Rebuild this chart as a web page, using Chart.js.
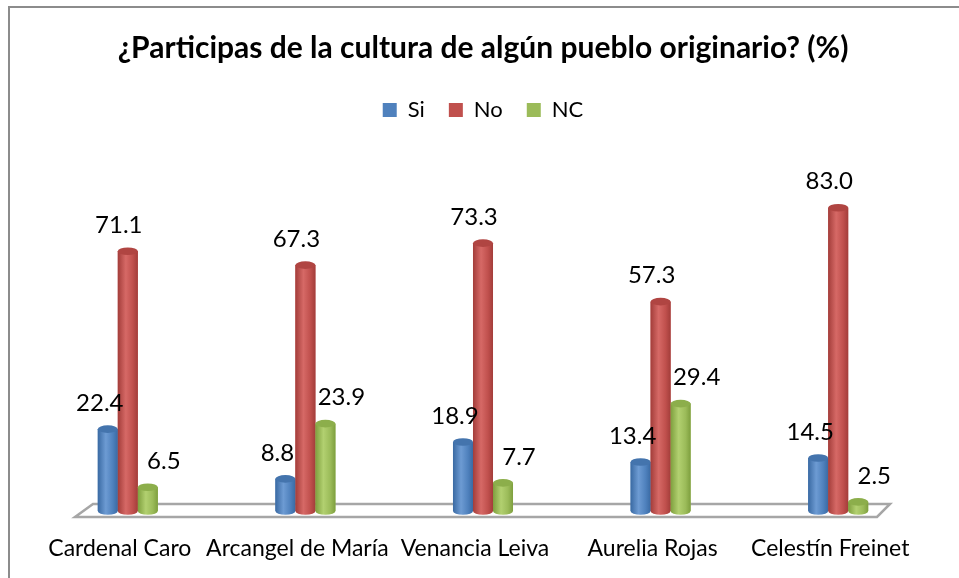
<!DOCTYPE html>
<html><head><meta charset="utf-8">
<script src="https://cdn.jsdelivr.net/npm/chart.js@4.4.1/dist/chart.umd.min.js"></script>
<style>
html,body{margin:0;padding:0;background:#fff;}
#wrap{position:relative;width:959px;height:578px;}
canvas{position:absolute;left:0;top:0;}
</style></head><body>
<div id="wrap"><canvas id="c" width="959" height="578"></canvas></div>
<script>
const categories = ["Cardenal Caro", "Arcangel de María", "Venancia Leiva", "Aurelia Rojas", "Celestín Freinet"];
const siValues = [22.4, 8.8, 18.9, 13.4, 14.5];
const noValues = [71.1, 67.3, 73.3, 57.3, 83.0];
const ncValues = [6.5, 23.9, 7.7, 29.4, 2.5];
const seriesNames = ["Si", "No", "NC"];
const titleText = "¿Participas de la cultura de algún pueblo originario? (%)";

const FONT = "Lato, 'Open Sans', sans-serif";
const palette = [
  {base:"#4F81BD", dark:"#3a6aa3", light:"#6d9bd3", top:"#4474ad"},
  {base:"#C0504D", dark:"#a33d3a", light:"#d66966", top:"#b04542"},
  {base:"#9BBB59", dark:"#7e9f3e", light:"#b2d070", top:"#8cae4b"}
];
const labelDx = [-8, -9, 16];

const frame = {
  id:"frame",
  beforeDraw(chart){
    const c = chart.ctx;
    c.save();
    c.fillStyle="#fff"; c.fillRect(0,0,chart.width,chart.height);
    c.strokeStyle="#8c8c8c"; c.lineWidth=2;
    c.beginPath(); c.moveTo(9,chart.height); c.lineTo(9,7); c.lineTo(chart.width,7); c.stroke();
    c.restore();
  },
  beforeDatasetsDraw(chart){
    const c = chart.ctx, a = chart.chartArea;
    const base = chart.scales.y.getPixelForValue(0);
    c.save();
    c.fillStyle="#fff"; c.strokeStyle="#a6a6a6"; c.lineWidth=2.5;
    c.beginPath();
    c.moveTo(a.left+36, base+6);
    c.lineTo(a.right-50, base+6);
    c.lineTo(a.right-37, base-7);
    c.lineTo(a.left+54, base-7);
    c.closePath(); c.fill(); c.stroke();
    c.restore();
  },
  afterDatasetsDraw(chart){
    const c = chart.ctx;
    chart.data.datasets.forEach((ds, di)=>{
      const meta = chart.getDatasetMeta(di);
      const p = palette[di];
      meta.data.forEach((el, i)=>{
        const w = el.width, x0 = el.x - w/2, x1 = el.x + w/2;
        const top = el.y, bot = el.base;
        const ry = 3.8;
        const g = c.createLinearGradient(x0,0,x1,0);
        g.addColorStop(0, p.dark);
        g.addColorStop(0.4, p.light);
        g.addColorStop(0.75, p.base);
        g.addColorStop(1, p.dark);
        c.save();
        c.fillStyle = g;
        c.beginPath();
        c.moveTo(x0, top);
        c.lineTo(x0, bot);
        c.ellipse(el.x, bot, w/2, ry, 0, Math.PI, 0, true);
        c.lineTo(x1, top);
        c.closePath();
        c.fill();
        c.fillStyle = p.top;
        c.beginPath();
        c.ellipse(el.x, top, w/2, ry, 0, 0, Math.PI*2);
        c.fill();
        c.restore();
      });
    });
    chart.data.datasets.forEach((ds, di)=>{
      const meta = chart.getDatasetMeta(di);
      meta.data.forEach((el, i)=>{
        c.save();
        c.fillStyle="#000";
        c.font = "24px " + FONT;
        c.textAlign="center"; c.textBaseline="middle";
        c.fillText(ds.data[i].toFixed(1), el.x + labelDx[di], el.y - 26);
        c.restore();
      });
    });
  }
};

new Chart(document.getElementById("c"), {
  type:"bar",
  data:{
    labels: categories,
    datasets:[
      {label:seriesNames[0], data:siValues, backgroundColor:palette[0].base},
      {label:seriesNames[1], data:noValues, backgroundColor:palette[1].base},
      {label:seriesNames[2], data:ncValues, backgroundColor:palette[2].base}
    ]
  },
  options:{
    responsive:false, animation:false,
    layout:{padding:{left:39, right:32, top:0, bottom:0}},
    categoryPercentage:0.338, barPercentage:1.0,
    plugins:{
      title:{display:true, text:titleText, color:"#000",
        font:{family:FONT, size:30, weight:"bold"}, padding:{top:30, bottom:9}},
      legend:{display:true, position:"top",
        labels:{color:"#000", font:{family:FONT, size:22}, boxWidth:14, boxHeight:14, padding:24}},
      tooltip:{enabled:false}
    },
    scales:{
      x:{grid:{display:false, drawTicks:false}, border:{display:false},
         afterFit(scale){ scale.height = 67; },
         ticks:{color:"#000", font:{family:FONT, size:23}, padding:24, labelOffset:-8, maxRotation:0, autoSkip:false}},
      y:{display:false, min:0, max:104}
    }
  },
  plugins:[frame]
});
</script>
</body></html>
